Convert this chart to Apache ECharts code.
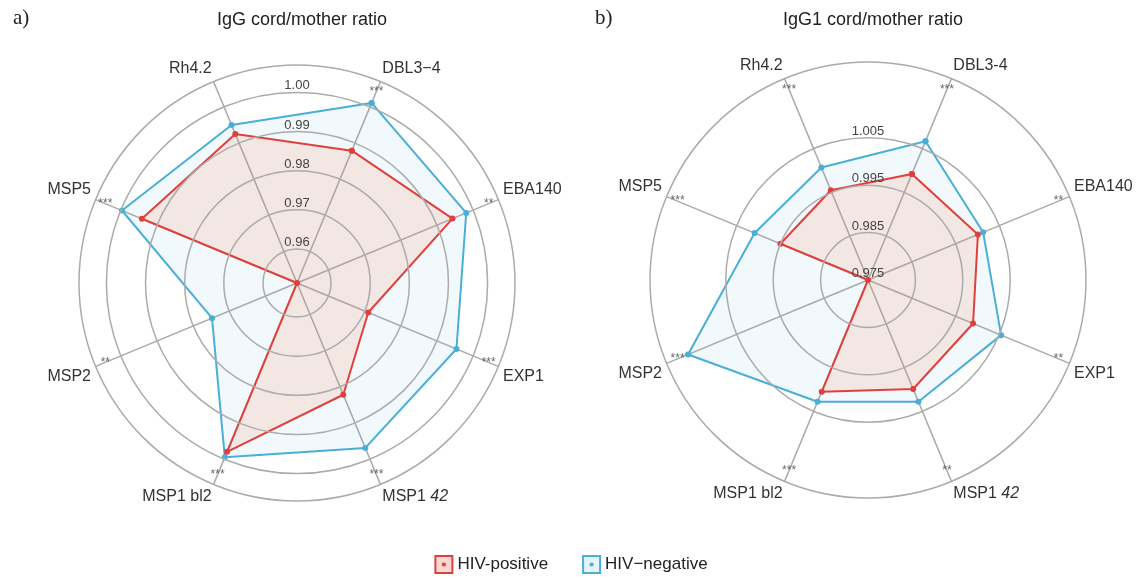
<!DOCTYPE html>
<html>
<head>
<meta charset="utf-8">
<script src="https://cdn.jsdelivr.net/npm/echarts@6/dist/echarts.min.js"></script>
<style>
html,body{margin:0;padding:0;background:#fff;}
#chart{width:1142px;height:579px;}
</style>
</head>
<body>
<div id="chart"></div>
<script>
// ---- data ----
const categories = ['DBL3-4', 'EBA140', 'EXP1', 'MSP1 42', 'MSP1 bl2', 'MSP2', 'MSP5', 'Rh4.2'];
const leftLabels  = ['DBL3\u22124', 'EBA140', 'EXP1', 'MSP1 {i|42}', 'MSP1 bl2', 'MSP2', 'MSP5', 'Rh4.2'];
const rightLabels = ['DBL3-4', 'EBA140', 'EXP1', 'MSP1 {i|42}', 'MSP1 bl2', 'MSP2', 'MSP5', 'Rh4.2'];
const iggPositive  = [0.9879, 0.9943, 0.9710, 0.9822, 0.9980, 0.9513, 0.9942, 0.9925];
const iggNegative  = [1.0011, 0.9981, 0.9954, 0.9969, 0.9995, 0.9748, 0.9997, 0.9950];
const igg1Positive = [0.9992, 1.0001, 0.9990, 0.9999, 1.0005, 0.9750, 0.9950, 0.9955];
const igg1Negative = [1.0067, 1.0013, 1.0054, 1.0028, 1.0028, 1.0161, 1.0009, 1.0007];
const iggSignif  = ['***', '**', '***', '***', '***', '**', '***', ''];
const igg1Signif = ['***', '**', '**', '**', '***', '***', '***', '***'];
const iggTicks  = [0.96, 0.97, 0.98, 0.99, 1.00];
const igg1Ticks = [0.975, 0.985, 0.995, 1.005];
const seriesNames = ['HIV-positive', 'HIV\u2212negative'];

// ---- styles ----
const RED = '#e0403c', BLUE = '#4aafd7';
const GRID = '#ababab';
const FONT = 'Liberation Sans, Arial, sans-serif';

const angles = categories.map((c, i) => 22.5 + 45 * i);

function closed(values) {
  const pts = values.map((v, i) => [v, angles[i]]);
  pts.push([values[0], angles[0] + 360]);
  return pts;
}

function panel(k, cfg) {
  const polar = { center: cfg.center, radius: 218 };
  const angleAxis = {
    polarIndex: k, type: 'value', min: 0, max: 360, startAngle: 90, clockwise: true,
    axisLine: { show: true, lineStyle: { color: GRID, width: 1.5 } },
    axisTick: { show: false, customValues: angles },
    splitLine: { show: true, lineStyle: { color: GRID, width: 1.5 } },
    axisLabel: {
      show: true, customValues: angles, margin: 5,
      color: '#333', fontSize: 16, fontFamily: FONT,
      formatter: v => cfg.labels[Math.round((v - 22.5) / 45)],
      rich: { i: { fontStyle: 'italic', fontSize: 16, color: '#333', fontFamily: FONT } }
    }
  };
  const radiusAxis = {
    polarIndex: k, type: 'value', min: cfg.min, max: cfg.max,
    axisLine: { show: false },
    axisTick: { show: false, customValues: cfg.ticks },
    splitLine: { show: true, lineStyle: { color: GRID, width: 1.5 } },
    axisLabel: {
      show: true, customValues: cfg.ticks, margin: 0,
      align: 'center', verticalAlign: 'bottom',
      color: '#444', fontSize: 13, fontFamily: FONT,
      formatter: v => v.toFixed(cfg.dec)
    },
    z: 5
  };
  const series = [
    {
      name: seriesNames[1], type: 'line', coordinateSystem: 'polar', polarIndex: k,
      data: closed(cfg.neg), symbol: 'circle', symbolSize: 6, clip: false,
      lineStyle: { color: BLUE, width: 2 }, itemStyle: { color: BLUE },
      areaStyle: { color: 'rgba(74,175,215,0.10)' }, z: 2
    },
    {
      name: seriesNames[0], type: 'line', coordinateSystem: 'polar', polarIndex: k,
      data: closed(cfg.pos), symbol: 'circle', symbolSize: 6, clip: false,
      lineStyle: { color: RED, width: 2 }, itemStyle: { color: RED },
      areaStyle: { color: 'rgba(255,127,86,0.20)' }, z: 3
    },
    {
      name: 'signif', type: 'scatter', coordinateSystem: 'polar', polarIndex: k,
      data: cfg.sig.map((s, i) => ({ value: [cfg.sigR, angles[i]], sig: s })),
      symbolSize: 0, silent: true, z: 6,
      label: {
        show: true, position: 'inside', color: '#444', fontSize: 12, fontFamily: FONT,
        formatter: p => cfg.sig[p.dataIndex]
      }
    }
  ];
  return { polar, angleAxis, radiusAxis, series };
}

const L = panel(0, {
  center: [297, 283], min: 0.9513, max: 1.0070, ticks: iggTicks, dec: 2,
  labels: leftLabels, pos: iggPositive, neg: iggNegative, sig: iggSignif, sigR: 1.0043
});
const R = panel(1, {
  center: [868, 280], min: 0.975, max: 1.0210, ticks: igg1Ticks, dec: 3,
  labels: rightLabels, pos: igg1Positive, neg: igg1Negative, sig: igg1Signif, sigR: 1.0185
});

const chart = echarts.init(document.getElementById('chart'), null, { renderer: 'canvas' });
chart.setOption({
  backgroundColor: '#fff',
  animation: false,
  title: [
    { text: 'a)', left: 8, top: 3, textStyle: { fontFamily: 'Liberation Serif, Times New Roman, serif', fontSize: 21, fontWeight: 'normal', color: '#222' } },
    { text: 'IgG cord/mother ratio', left: 297, top: 6, textAlign: 'center', textStyle: { fontFamily: FONT, fontSize: 18, fontWeight: 'normal', color: '#222' } },
    { text: 'b)', left: 590, top: 3, textStyle: { fontFamily: 'Liberation Serif, Times New Roman, serif', fontSize: 21, fontWeight: 'normal', color: '#222' } },
    { text: 'IgG1 cord/mother ratio', left: 868, top: 6, textAlign: 'center', textStyle: { fontFamily: FONT, fontSize: 18, fontWeight: 'normal', color: '#222' } }
  ],
  legend: {
    left: 'center', top: 550, itemWidth: 17, itemHeight: 17, itemGap: 34,
    textStyle: { fontFamily: FONT, fontSize: 17, color: '#222' },
    data: [
      { name: seriesNames[0], icon: 'path://M0,0H20V20H0Z M9,9H11V11H9Z', itemStyle: { color: '#f7d9d3', borderColor: RED, borderWidth: 2 } },
      { name: seriesNames[1], icon: 'path://M0,0H20V20H0Z M9,9H11V11H9Z', itemStyle: { color: '#e6f3fa', borderColor: BLUE, borderWidth: 2 } }
    ]
  },
  polar: [L.polar, R.polar],
  angleAxis: [L.angleAxis, R.angleAxis],
  radiusAxis: [L.radiusAxis, R.radiusAxis],
  series: [...L.series, ...R.series]
});
</script>
</body>
</html>
